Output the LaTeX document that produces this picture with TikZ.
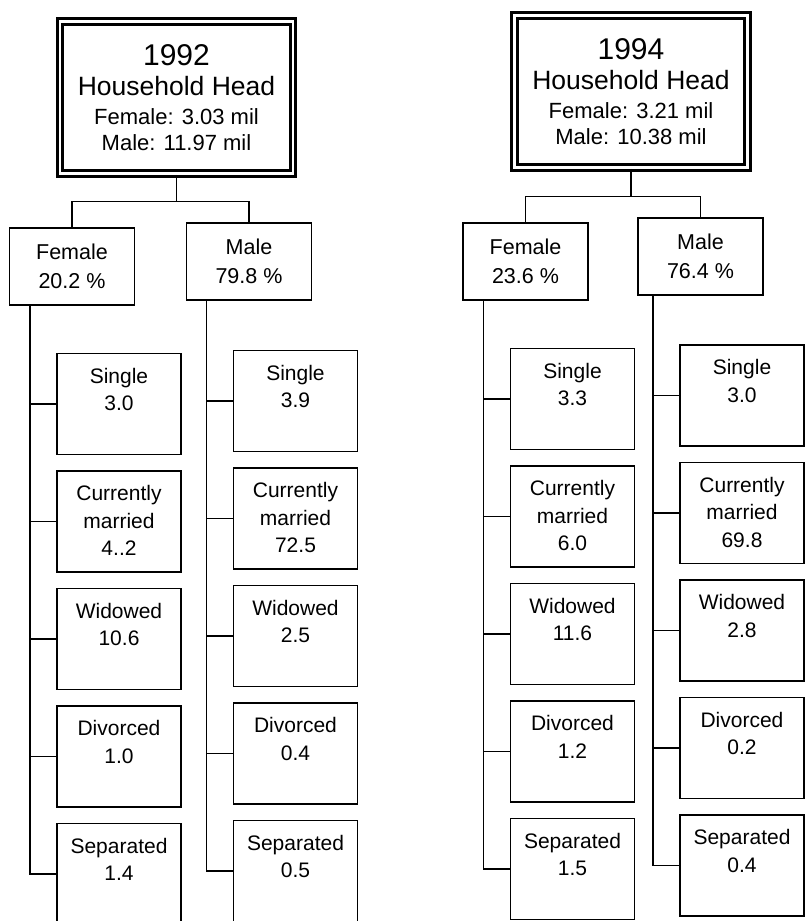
\documentclass[tikz,border=0pt]{standalone}
\usepackage{fontspec}
\setmainfont{Liberation Sans}

% text of a status box, set from the top of the box
\newcommand{\kidtext}[1]{\parbox[t][95pt][t]{118pt}{\centering\rule{0pt}{26.5pt}#1}}

\tikzset{
  headbox/.style={draw, double, line width=2.8pt, double distance=2.8pt,
    minimum width=233pt, minimum height=152pt, inner sep=0pt, align=center,
    font=\fontsize{22}{25.5}\selectfont},
  sexbox/.style={draw, line width=1.2pt, minimum width=125pt, minimum height=77pt,
    inner sep=0pt, align=center, font=\fontsize{21.5}{29}\selectfont},
  kidbox/.style={draw, line width=1.2pt, inner sep=3pt,
    font=\fontsize{21}{27.5}\selectfont},
  link/.style={line width=1.2pt}
}

\begin{document}
\begin{tikzpicture}[x=1pt, y=-1pt]
\useasboundingbox (0,0) rectangle (806,921);

% Household heads
\node[headbox] (h92) at (176.5,97.5) {{\fontsize{30}{30}\selectfont 1992}\\[4.5pt]
  {\fontsize{26.5}{30}\selectfont Household Head}\\[3.5pt]
  Female: 3.03 mil\\ Male: 11.97 mil};
\node[headbox] (h94) at (631,91.5) {{\fontsize{30}{30}\selectfont 1994}\\[4.5pt]
  {\fontsize{26.5}{30}\selectfont Household Head}\\[3.5pt]
  Female: 3.21 mil\\ Male: 10.38 mil};

% Female / Male shares
\node[sexbox] (f92) at (72,266.5) {Female\\20.2 \%};
\node[sexbox] (m92) at (249,261.5) {Male\\79.8 \%};
\node[sexbox] (f94) at (525.5,261.5) {Female\\23.6 \%};
\node[sexbox] (m94) at (700.5,256.5) {Male\\76.4 \%};

% Marital status, 1992
\foreach \lab [count=\i] in {{Single\\3.0},{Currently\\married\\4..2},{Widowed\\10.6},{Divorced\\1.0},{Separated\\1.4}}
  \node[kidbox] (f92k\i) at (119,{404+117.5*(\i-1)}) {\kidtext{\lab}};
\foreach \lab [count=\i] in {{Single\\3.9},{Currently\\married\\72.5},{Widowed\\2.5},{Divorced\\0.4},{Separated\\0.5}}
  \node[kidbox] (m92k\i) at (295.5,{401+117.5*(\i-1)}) {\kidtext{\lab}};

% Marital status, 1994
\foreach \lab [count=\i] in {{Single\\3.3},{Currently\\married\\6.0},{Widowed\\11.6},{Divorced\\1.2},{Separated\\1.5}}
  \node[kidbox] (f94k\i) at (572.5,{399+117.5*(\i-1)}) {\kidtext{\lab}};
\foreach \lab [count=\i] in {{Single\\3.0},{Currently\\married\\69.8},{Widowed\\2.8},{Divorced\\0.2},{Separated\\0.4}}
  \node[kidbox] (m94k\i) at (742,{395.5+117.5*(\i-1)}) {\kidtext{\lab}};

% Head to shares
\draw[link] (h92.south) -- ++(0,26.5) coordinate (j92);
\draw[link] (f92.north) |- (j92) -| (m92.north);
\draw[link] (h94.south) -- ++(0,27.5) coordinate (j94);
\draw[link] (f94.north) |- (j94) -| (m94.north);

% Shares to marital status
\foreach \s in {f92,m92,f94,m94} {
  \coordinate (t\s) at ([xshift=-26.5pt]\s k1.west |- \s.south);
  \draw[link] (t\s) |- (\s k5.west);
  \foreach \i in {1,...,4}
    \draw[link] (t\s |- \s k\i.west) -- (\s k\i.west);
}

\end{tikzpicture}
\end{document}
